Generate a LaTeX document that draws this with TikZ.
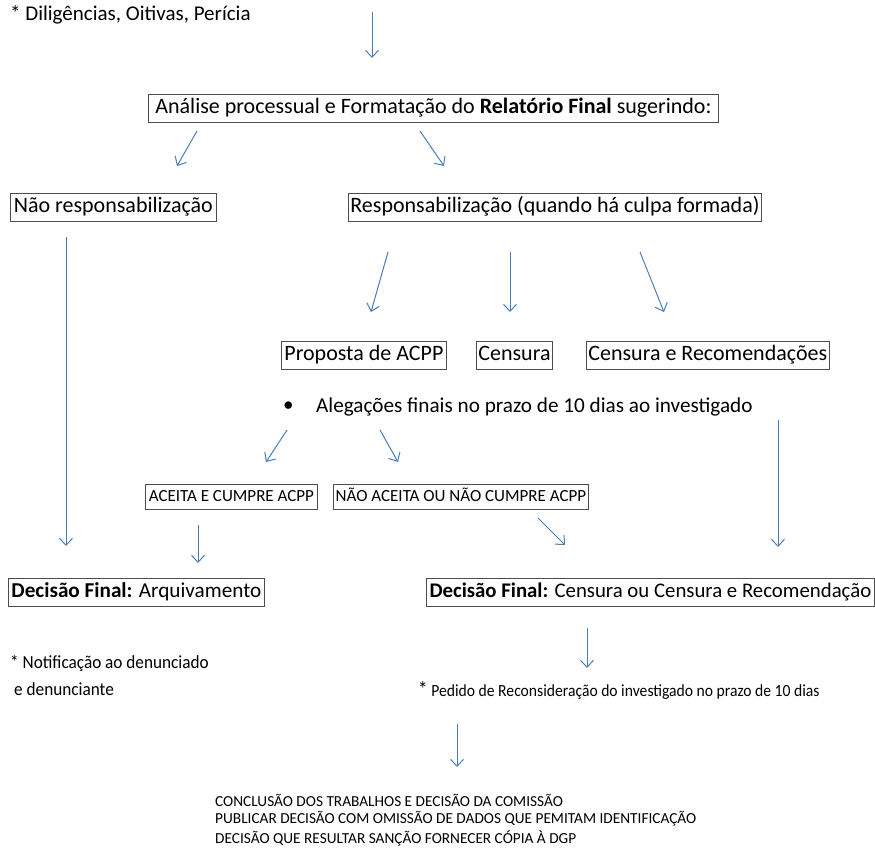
\documentclass[tikz,border=0pt]{standalone}
\usepackage{fontspec}
\setmainfont{Carlito}
\usetikzlibrary{arrows.meta}
\definecolor{arr}{HTML}{4A7EBB}
\newcommand\fsz[1]{\fontsize{#1pt}{#1pt}\selectfont}
\tikzset{
  box/.style={draw=black!70, line width=0.8pt, minimum height=28pt, inner xsep=2pt, inner ysep=3.5pt, text height=15.5pt, text depth=5pt, font=\fsz{22}, anchor=west},
  sbox/.style={draw=black!70, line width=0.8pt, minimum height=25pt, inner xsep=2pt, inner ysep=4pt, text height=12.5pt, text depth=4pt, font=\fsz{17}, anchor=west},
  plain/.style={inner sep=0pt, anchor=west},
  flow/.style={draw=arr, line width=1pt, -{Straight Barb[length=7pt,width=13pt]}},
}
\begin{document}
\begin{tikzpicture}[x=1pt,y=-1pt]
\useasboundingbox[fill=white] (0,0) rectangle (875,853);

% top
\node[plain, font=\fsz{21}] (dil) at (10,15) {* Diligências, Oitivas, Perícia};
\coordinate (t0) at (372,12); \coordinate (t1) at (372,58);
\draw[flow] (t0) -- (t1);

\node[box, minimum width=570pt] (anal) at (148,108) {Análise processual e Formatação do \textbf{Relatório Final} sugerindo:};
\coordinate (a1s) at (197,131); \coordinate (a1e) at (177,166);
\coordinate (a2s) at (420,131); \coordinate (a2e) at (444,166);
\draw[flow] (a1s) -- (a1e);
\draw[flow] (a2s) -- (a2e);

\node[box, minimum width=206pt] (nao) at (10,207.5) {Não responsabilização};
\node[box, minimum width=406pt] (resp) at (348,207.5) {Responsabilização (quando há culpa formada)};

\coordinate (l0) at (66,237); \coordinate (l1) at (66,546);
\draw[flow] (l0) -- (l1);

\coordinate (b1s) at (388,252); \coordinate (b1e) at (371,312);
\coordinate (b2s) at (510,252); \coordinate (b2e) at (510,312);
\coordinate (b3s) at (640,252); \coordinate (b3e) at (664,312);
\draw[flow] (b1s) -- (b1e);
\draw[flow] (b2s) -- (b2e);
\draw[flow] (b3s) -- (b3e);

\node[box, minimum width=165pt] (prop) at (281,355) {Proposta de ACPP};
\node[box, minimum width=69pt] (cens) at (476,355) {Censura};
\node[box, minimum width=234pt] (crec) at (586,355) {Censura e Recomendações};

\node[plain, font=\fsz{21}] (bul) at (283,407) {•};
\node[plain, font=\fsz{21.2}] (aleg) at (316,407) {Alegações finais no prazo de 10 dias ao investigado};

\coordinate (c1s) at (287,430); \coordinate (c1e) at (266,462);
\coordinate (c2s) at (380,430); \coordinate (c2e) at (398,462);
\coordinate (r0) at (778,420); \coordinate (r1) at (778,547);
\draw[flow] (c1s) -- (c1e);
\draw[flow] (c2s) -- (c2e);
\draw[flow] (r0) -- (r1);

\node[sbox, minimum width=172pt] (aceita) at (145,497) {ACEITA E CUMPRE ACPP};
\node[sbox, minimum width=255pt] (naoac) at (333,497) {NÃO ACEITA OU NÃO CUMPRE ACPP};

\coordinate (d1s) at (198,525); \coordinate (d1e) at (198,563);
\coordinate (d2s) at (538,518); \coordinate (d2e) at (565,545);
\draw[flow] (d1s) -- (d1e);
\draw[flow] (d2s) -- (d2e);

\node[box, font=\fsz{21.2}, minimum width=256pt] (decA) at (8,592) {\textbf{Decisão Final:} Arquivamento};
\node[box, font=\fsz{20.8}, minimum width=448pt] (decC) at (426,592) {\textbf{Decisão Final:} Censura ou Censura e Recomendação};

\coordinate (e0) at (587,628); \coordinate (e1) at (587,668);
\draw[flow] (e0) -- (e1);

\node[plain, font=\fsz{18.5}] (not1) at (10,663) {\scalebox{0.93}[1]{* Notificação ao denunciado}};
\node[plain, font=\fsz{18.5}] (not2) at (14,689) {\scalebox{0.93}[1]{e denunciante}};
\node[plain, font=\fsz{17}] (ped) at (418,690) {\scalebox{0.92}[1]{{\fsz{21}*} Pedido de Reconsideração do investigado no prazo de 10 dias}};

\coordinate (f0) at (457,724); \coordinate (f1) at (457,767);
\draw[flow] (f0) -- (f1);

\node[plain, font=\fsz{15.3}] (fin1) at (215,800) {CONCLUSÃO DOS TRABALHOS E DECISÃO DA COMISSÃO};
\node[plain, font=\fsz{15.3}] (fin2) at (215,819) {PUBLICAR DECISÃO COM OMISSÃO DE DADOS QUE PEMITAM IDENTIFICAÇÃO};
\node[plain, font=\fsz{15.3}] (fin3) at (215,838) {DECISÃO QUE RESULTAR SANÇÃO FORNECER CÓPIA À DGP};
\end{tikzpicture}
\end{document}
